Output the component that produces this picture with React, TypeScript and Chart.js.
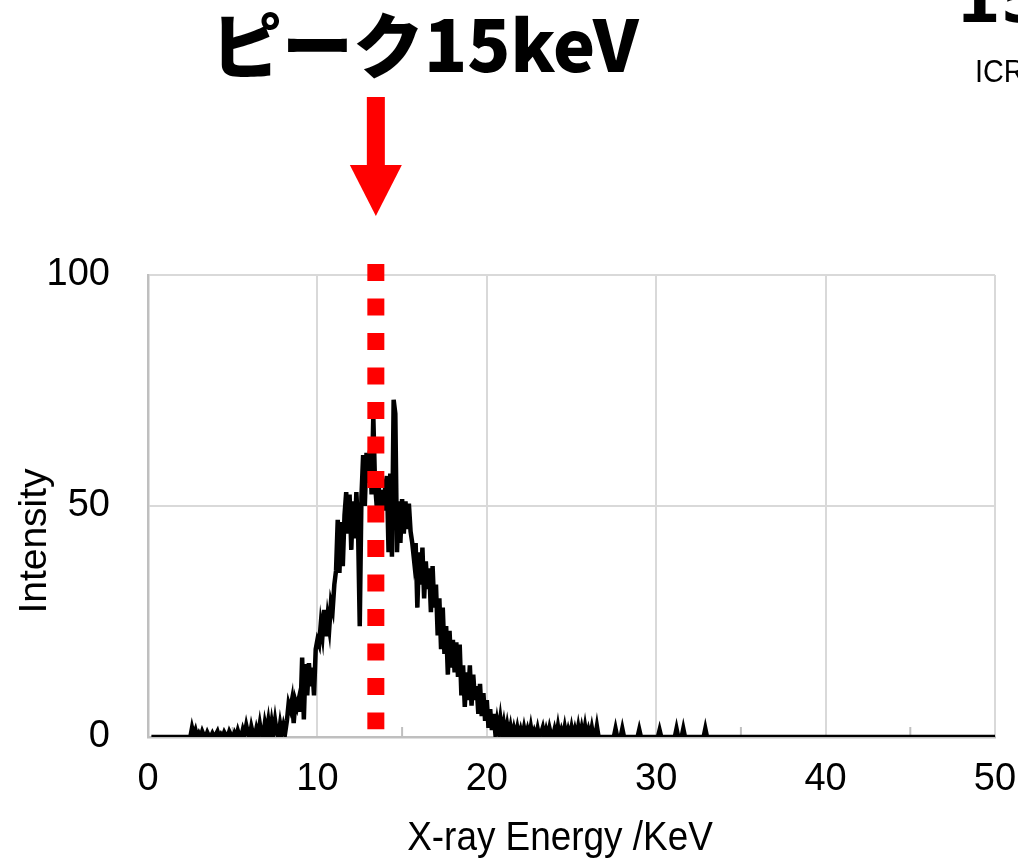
import { useEffect, useRef } from "react";
import { Chart, registerables } from "chart.js";

Chart.register(...registerables);

// Spectrum channels: first channel energy and channel width (keV)
const CHANNEL_START_KEV = 2.5;
const CHANNEL_WIDTH_KEV = 0.1;

// Counts per channel from 2.5 keV to 26.6 keV
const intensity: number[] = [
  0, 2.0, 0.5, 1.5, 0,
  0.8, 0, 1.2, 0.3, 0, 1.0, 0.2, 0, 0.8, 0,
  0.5, 1.2, 0, 0.6, 0, 1.0, 0.3, 0, 1.2, 0.4,
  0, 0.9, 0, 1.4, 0.2, 0, 1.6, 0.5, 2.5, 0.8,
  0, 2.2, 0.6, 0, 1.8, 0.4, 2.8, 0.5, 0, 3.0,
  1.2, 3.5, 0.5, 3.2, 0.8, 3.6, 1.0, 0, 2.8, 0.6,
  2.5, 1.0, 3.5, 7.2, 6.0, 8.0, 3.0, 7.8, 6.5, 8.2,
  5.5, 17.2, 3.8, 15.8, 9.0, 16.0, 11.0, 15.0, 9.0, 19.0,
  21.0, 20.0, 24.5, 22.0, 27.5, 21.8, 26.0, 23.5, 29.0, 27.5,
  33.0, 36.0, 47.0, 35.5, 46.5, 37.0, 48.0, 53.0, 44.0, 52.5,
  40.5, 51.0, 43.0, 53.0, 45.0, 24.0, 52.0, 61.0, 50.0, 61.5,
  55.0, 62.0, 52.5, 69.5, 55.0, 50.0, 56.0, 48.5, 53.5, 49.0,
  54.0, 56.5, 40.0, 57.0, 39.0, 73.0, 70.0, 40.0, 51.0, 42.0,
  51.5, 44.0, 51.0, 45.0, 50.5, 44.5, 42.0, 38.5, 42.0, 28.0,
  40.0, 33.0, 41.0, 30.0, 38.0, 32.0, 36.5, 27.0, 37.0, 28.0,
  33.0, 22.0, 30.0, 19.0, 28.0, 18.0, 24.0, 13.5, 23.0, 15.0,
  21.0, 14.0, 20.5, 13.0, 20.0, 9.0, 15.5, 6.5, 14.0, 8.0,
  15.5, 6.8, 13.5, 8.0, 11.0, 5.0, 11.5, 4.5, 9.5, 3.5,
  8.0, 2.0, 6.0, 1.5, 5.0, 1.0, 3.5, 1.2, 4.0, 1.0,
  3.0, 0.5, 2.6, 0.3, 2.2, 0, 1.8, 0.2, 2.0, 0,
  1.5, 0, 2.0, 0.2, 1.6, 0, 2.2, 0, 1.2, 0,
  1.8, 0, 0.8, 2.0, 0, 1.5, 0, 1.9, 0.3, 0,
  1.6, 0, 2.3, 0, 1.4, 0, 2.1, 0, 1.5, 0,
  2.0, 0, 1.6, 0, 2.2, 0, 1.9, 0, 2.3, 0,
  1.5, 0, 2.0, 0, 0, 2.3, 0,
];

// Flat baseline before the first counts
const leadIn: [number, number][] = [[0.2, 0]];

// Sparse single-count blips in the high-energy tail, then flat to 50 keV
const tail: [number, number][] = [
  [26.7, 0], [27.5, 0], [27.6, 1.8], [27.7, 0], [27.9, 0], [28.0, 1.8], [28.1, 0],
  [28.9, 0], [29.0, 1.6], [29.1, 0], [30.1, 0], [30.2, 1.5], [30.3, 0],
  [31.1, 0], [31.2, 1.8], [31.3, 0], [31.5, 0], [31.6, 1.8], [31.7, 0],
  [32.8, 0], [32.9, 1.8], [33.0, 0], [50, 0],
];

// Axis ranges and ticks
const X_MIN = 0;
const X_MAX = 50;
const X_STEP = 10;
const minorTickKeV = [5, 15, 25, 35, 45];
const Y_MIN = 0;
const Y_MAX = 100;
const Y_STEP = 50;

// Peak marker (dotted line + arrow)
const PEAK_MARKER_KEV = 13.45;
const markerSpan = [102.4, 1.7];

const TITLE = "ピーク15keV";
const X_TITLE = "X-ray Energy /KeV";
const Y_TITLE = "Intensity";
const CORNER_BIG = "15";
const CORNER_SMALL = "ICRP";

const SANS = '"Liberation Sans", Arial, sans-serif';

const spectrumPoints = [
  ...leadIn.map(([x, y]) => ({ x, y })),
  ...intensity.map((y, i) => ({
    x: Math.round((CHANNEL_START_KEV + i * CHANNEL_WIDTH_KEV) * 10) / 10,
    y,
  })),
  ...tail.map(([x, y]) => ({ x, y })),
];

const markerPoints = markerSpan.map((y) => ({ x: PEAK_MARKER_KEV, y }));

function squeezedText(
  ctx: CanvasRenderingContext2D,
  text: string,
  x: number,
  y: number,
  align: CanvasTextAlign,
  sx: number
) {
  ctx.save();
  ctx.translate(x, y);
  ctx.scale(sx, 1);
  ctx.textAlign = align;
  ctx.textBaseline = "alphabetic";
  ctx.fillText(text, 0, 0);
  ctx.restore();
}

const decorations = {
  id: "decorations",
  beforeDatasetsDraw(chart: any) {
    const { ctx, chartArea, scales } = chart;
    ctx.save();
    ctx.strokeStyle = "#bfbfbf";
    ctx.lineWidth = 2;
    for (const v of minorTickKeV) {
      const px = scales.x.getPixelForValue(v);
      ctx.beginPath();
      ctx.moveTo(px, chartArea.bottom);
      ctx.lineTo(px, chartArea.bottom - 10);
      ctx.stroke();
    }
    ctx.restore();
  },
  afterDraw(chart: any) {
    const { ctx, chartArea, scales } = chart;
    ctx.save();

    // Arrow pointing down at the peak marker
    const ax = scales.x.getPixelForValue(PEAK_MARKER_KEV);
    const top = chartArea.top;
    ctx.fillStyle = "#ff0000";
    ctx.fillRect(ax - 9, top - 178, 18, 70);
    ctx.beginPath();
    ctx.moveTo(ax - 26, top - 110);
    ctx.lineTo(ax + 26, top - 110);
    ctx.lineTo(ax, top - 59);
    ctx.closePath();
    ctx.fill();

    ctx.fillStyle = "#000000";

    // Headline
    ctx.font = `900 71px "Noto Sans CJK JP", sans-serif`;
    ctx.textAlign = "left";
    ctx.textBaseline = "alphabetic";
    ctx.fillText(TITLE, 211, 72);

    // Corner texts
    ctx.font = `700 64px "DejaVu Sans", sans-serif`;
    ctx.fillText(CORNER_BIG, 956, 22);
    ctx.font = `400 32px ${SANS}`;
    squeezedText(ctx, CORNER_SMALL, 975, 82, "left", 0.9);

    // X axis title
    ctx.font = `400 41px ${SANS}`;
    squeezedText(ctx, X_TITLE, 560, 850, "center", 0.9);

    // Y axis title
    ctx.font = `400 39px ${SANS}`;
    ctx.save();
    ctx.translate(46, 541);
    ctx.rotate(-Math.PI / 2);
    ctx.textAlign = "center";
    ctx.textBaseline = "alphabetic";
    ctx.fillText(Y_TITLE, 0, 0);
    ctx.restore();

    ctx.restore();
  },
};

export default function App() {
  const canvasRef = useRef<HTMLCanvasElement | null>(null);

  useEffect(() => {
    const canvas = canvasRef.current;
    if (!canvas) return;
    const chart = new Chart(canvas, {
      type: "line",
      data: {
        datasets: [
          {
            label: "peak",
            data: markerPoints,
            borderColor: "#ff0000",
            borderWidth: 17,
            borderDash: [17, 17.5],
            borderCapStyle: "butt",
            pointRadius: 0,
            clip: false,
          } as any,
          {
            label: "spectrum",
            data: spectrumPoints,
            borderColor: "#000000",
            borderWidth: 4.5,
            borderJoinStyle: "miter",
            pointRadius: 0,
            tension: 0,
          },
        ],
      },
      options: {
        responsive: false,
        animation: false,
        devicePixelRatio: 1,
        layout: { padding: { left: 0, top: 275, right: 0, bottom: 0 } },
        plugins: {
          legend: { display: false },
          tooltip: { enabled: false },
          title: { display: false },
        },
        scales: {
          x: {
            type: "linear",
            min: X_MIN,
            max: X_MAX,
            afterFit: (scale: any) => {
              scale.height = 121;
              scale.paddingLeft = 0;
              scale.paddingRight = 23;
            },
            ticks: {
              stepSize: X_STEP,
              padding: 20,
              color: "#000000",
              font: { family: SANS, size: 38 },
              maxRotation: 0,
            },
            grid: { color: "#d9d9d9", lineWidth: 2, drawTicks: false },
            border: { color: "#bfbfbf", width: 2.5 },
          },
          y: {
            type: "linear",
            min: Y_MIN,
            max: Y_MAX,
            afterFit: (scale: any) => {
              scale.width = 148;
            },
            ticks: {
              stepSize: Y_STEP,
              padding: 38,
              color: "#000000",
              font: { family: SANS, size: 38 },
            },
            grid: { color: "#d9d9d9", lineWidth: 2, drawTicks: false },
            border: { color: "#bfbfbf", width: 2.5 },
          },
        },
      },
      plugins: [decorations],
    });
    return () => chart.destroy();
  }, []);

  return (
    <div
      style={{
        position: "fixed",
        left: 0,
        top: 0,
        width: 1018,
        height: 858,
        overflow: "hidden",
        background: "#ffffff",
      }}
    >
      <canvas ref={canvasRef} width={1018} height={858} style={{ display: "block" }} />
    </div>
  );
}
